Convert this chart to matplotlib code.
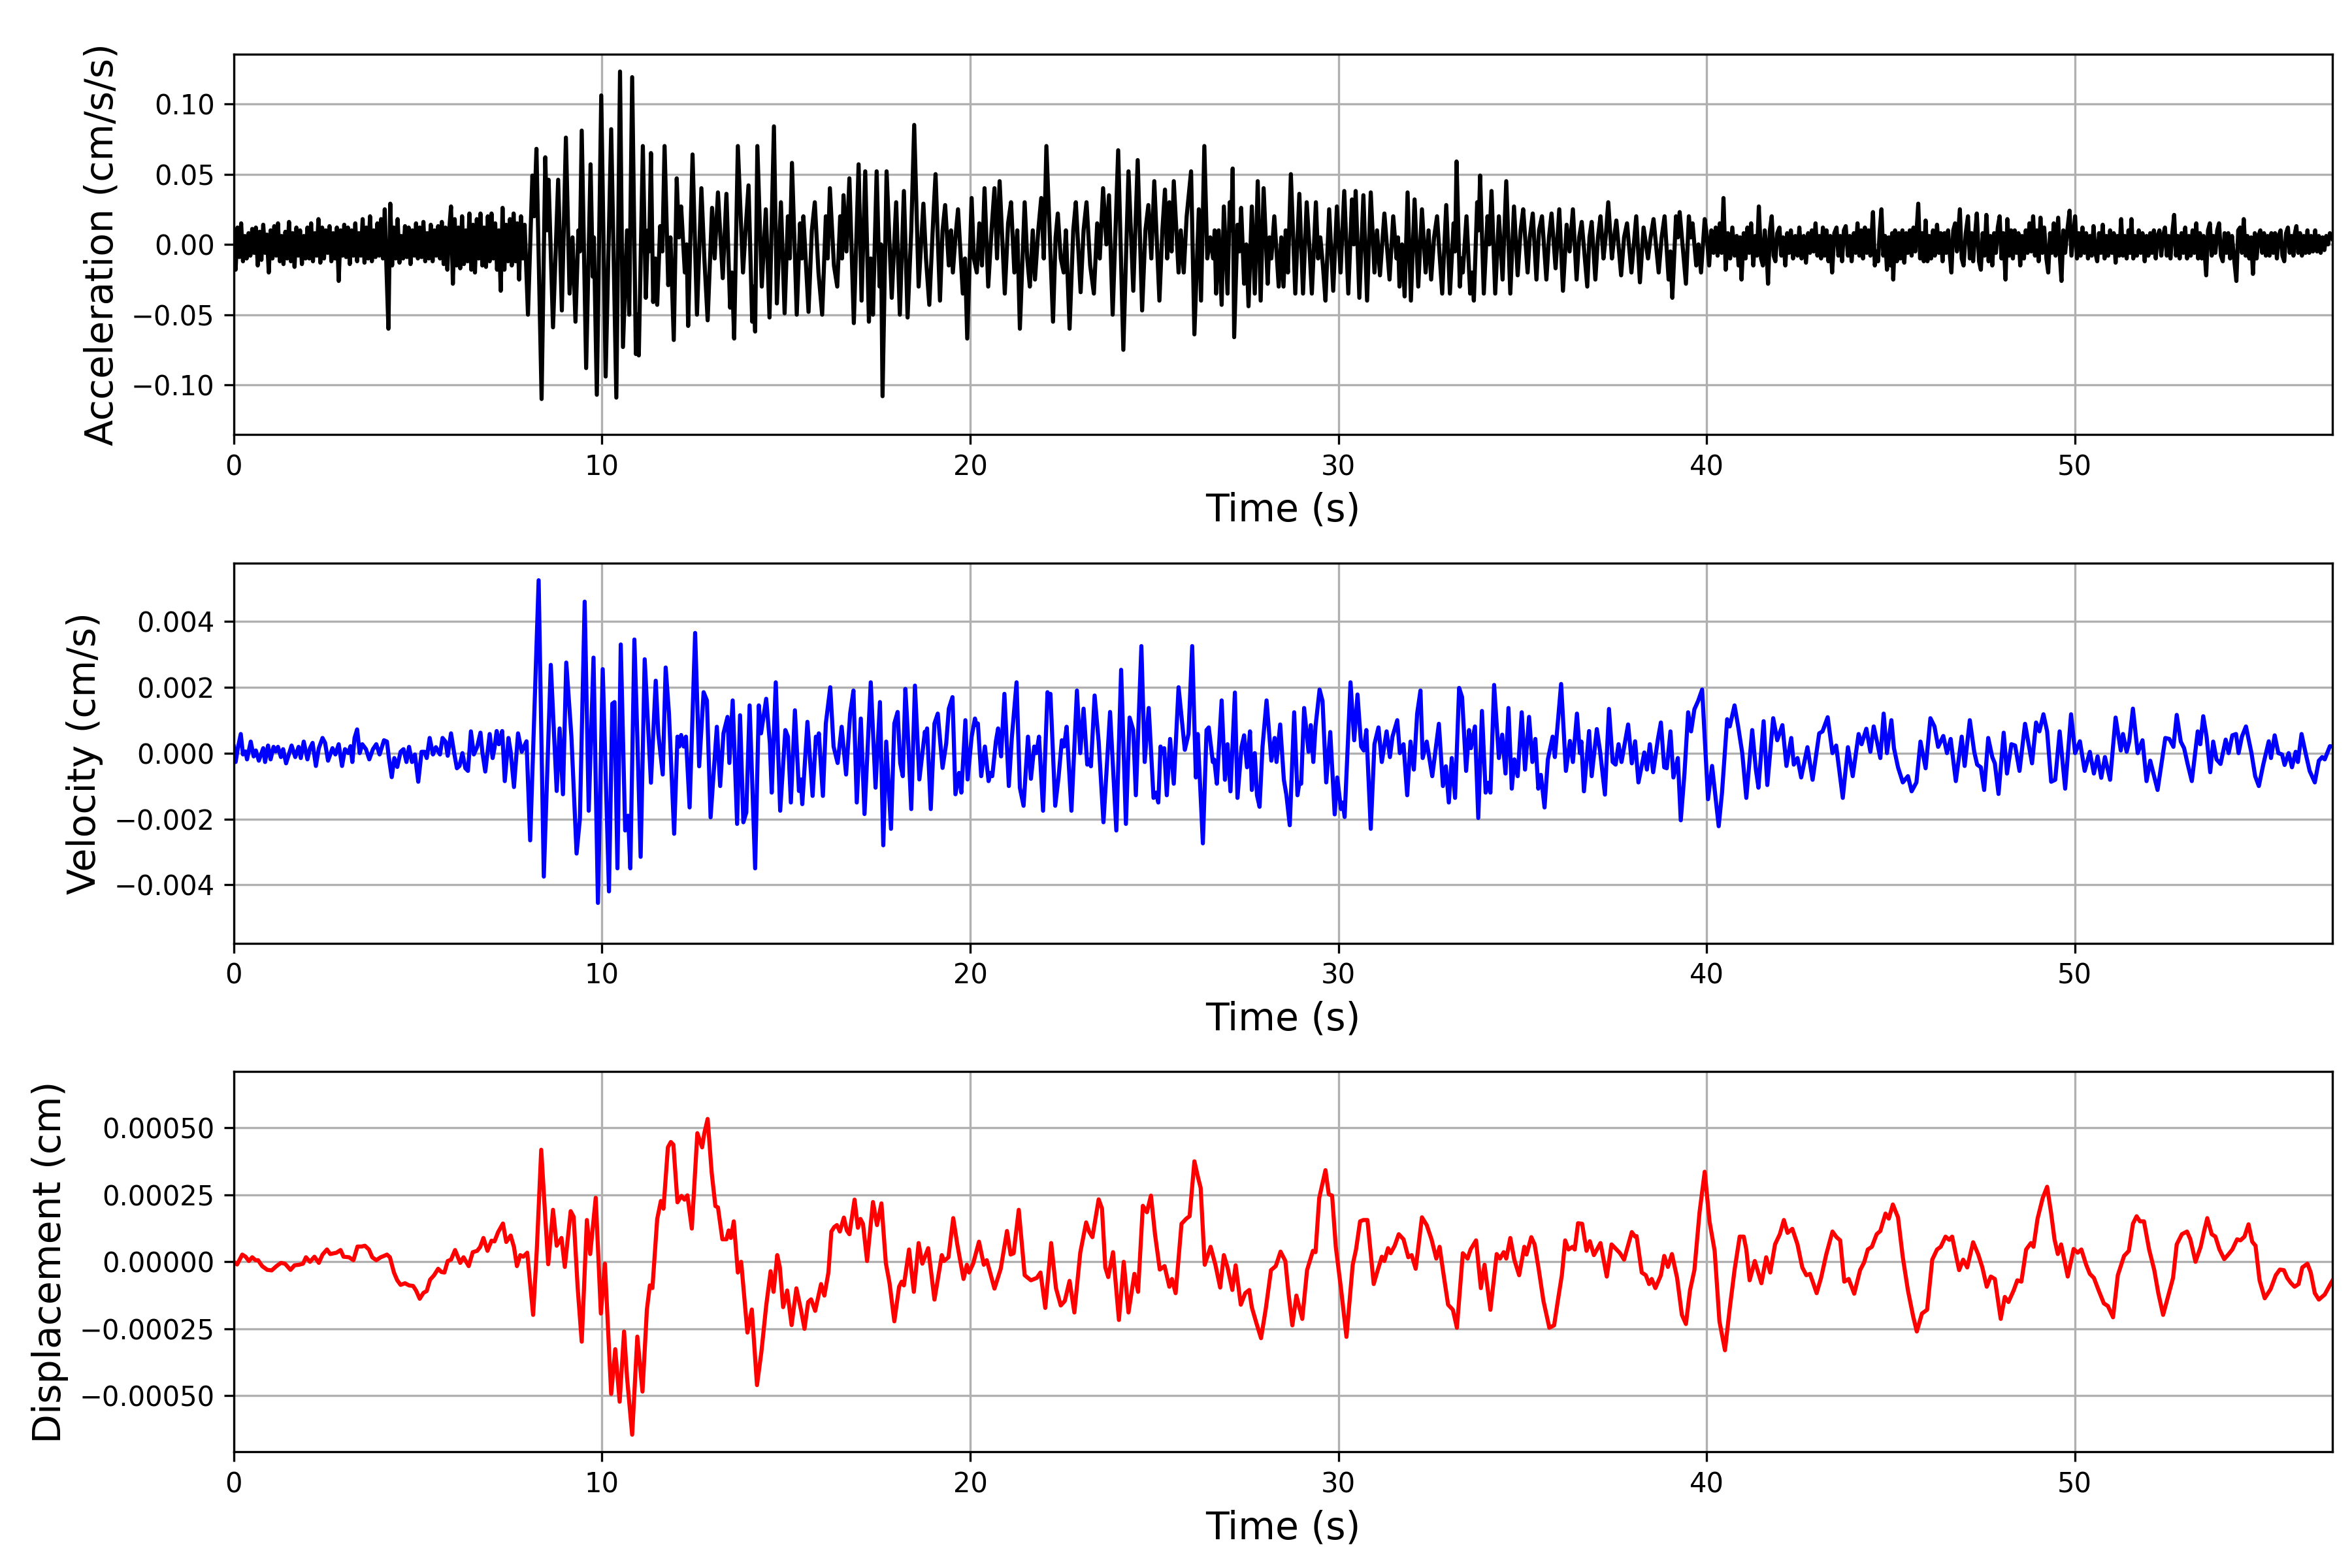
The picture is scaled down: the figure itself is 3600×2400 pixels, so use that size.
import numpy as np
import matplotlib
matplotlib.use("Agg")
import matplotlib.pyplot as plt

# (time s, acceleration x1e-3 cm/s/s)
acc_points = [
    (0.0, 5), (0.05, -18), (0.1, 12), (0.15, -9), (0.2, 15), (0.25, -12), (0.3, 6), (0.35, -10),
    (0.4, 8), (0.45, -8), (0.5, 11), (0.55, -6), (0.6, 12), (0.65, -15), (0.7, 9), (0.75, -11),
    (0.8, 14), (0.85, -6), (0.9, 7), (0.95, -20), (1.0, 10), (1.05, -10), (1.1, 13), (1.15, -8),
    (1.2, 15), (1.25, -12), (1.3, 6), (1.35, -14), (1.4, 9), (1.45, -10), (1.5, 16), (1.55, -12),
    (1.6, 8), (1.65, -16), (1.7, 12), (1.75, -8), (1.8, 10), (1.85, -14), (1.9, 6), (1.95, -10),
    (2.0, 12), (2.05, -10), (2.1, 15), (2.15, -12), (2.2, 8), (2.25, -8), (2.3, 18), (2.35, -13),
    (2.4, 12), (2.45, -10), (2.5, 10), (2.55, -6), (2.6, 13), (2.65, -12), (2.7, 8), (2.75, -10),
    (2.8, 12), (2.85, -26), (2.9, 10), (2.95, -8), (3.0, 14), (3.05, -9), (3.1, 12), (3.15, -14),
    (3.2, 10), (3.25, -8), (3.3, 15), (3.35, -12), (3.4, 8), (3.45, -8), (3.5, 18), (3.55, -13),
    (3.6, 12), (3.65, -10), (3.7, 20), (3.75, -12), (3.8, 10), (3.85, -9), (3.9, 15), (3.95, -8),
    (4.0, 18), (4.05, -10), (4.1, 25), (4.15, -20), (4.2, -60), (4.25, 29), (4.3, -15), (4.35, 12),
    (4.4, -10), (4.45, 18), (4.5, -13), (4.55, 6), (4.6, -10), (4.65, 13), (4.7, -9), (4.75, 12),
    (4.8, -14), (4.85, 10), (4.9, -8), (4.95, 15), (5.0, -10), (5.05, 12), (5.1, -9), (5.15, 16),
    (5.2, -12), (5.25, 8), (5.3, -10), (5.35, 14), (5.4, -12), (5.45, 10), (5.5, -8), (5.55, 13),
    (5.6, -10), (5.65, 16), (5.7, -14), (5.75, 12), (5.8, -18), (5.85, 10), (5.9, 27), (5.95, -28),
    (6.0, 18), (6.05, -15), (6.1, 12), (6.15, -17), (6.2, 20), (6.25, -14), (6.3, 10), (6.35, -12),
    (6.4, 22), (6.45, -18), (6.5, 14), (6.55, -20), (6.6, 18), (6.65, -10), (6.7, 22), (6.75, -15),
    (6.8, 12), (6.85, -16), (6.9, 20), (6.95, -12), (7.0, 22), (7.05, -10), (7.1, 15), (7.15, -18),
    (7.2, 10), (7.25, -33), (7.3, 26), (7.35, -18), (7.4, 14), (7.45, -12), (7.5, 18), (7.55, -15),
    (7.6, 22), (7.65, -12), (7.7, 15), (7.75, -25), (7.8, 20), (7.85, -10), (7.9, 14),
    (7.99, -50), (8.11, 49), (8.16, 20), (8.22, 68), (8.36, -110), (8.46, 62), (8.51, 10), (8.55, 46),
    (8.67, -59), (8.81, 46), (8.91, -47), (9.02, 76), (9.12, -35), (9.2, 5), (9.28, -55), (9.36, 10),
    (9.4, -5), (9.45, 81), (9.57, -88), (9.69, 57), (9.75, -23), (9.78, 5), (9.86, -107), (9.98, 106),
    (10.1, -94), (10.25, 82), (10.39, -109), (10.49, 123), (10.57, -73), (10.68, 10), (10.74, -50),
    (10.82, 119), (10.92, -78), (10.96, -50), (11.0, -79), (11.11, 70), (11.19, -38), (11.25, 10),
    (11.28, -5), (11.33, 65), (11.39, -41), (11.45, -10), (11.5, -43), (11.58, 13), (11.64, -5),
    (11.7, 70), (11.8, -29), (11.86, 5), (11.95, -68), (12.03, 47), (12.09, 5), (12.15, 27),
    (12.25, -20), (12.3, 0), (12.34, -58), (12.46, 64), (12.58, -50), (12.7, 40), (12.78, -10),
    (12.87, -54), (12.99, 26), (13.06, -10), (13.15, 37), (13.28, -24), (13.38, 36), (13.48, -45),
    (13.53, -20), (13.59, -67), (13.69, 70), (13.83, -20), (13.9, 10), (13.98, 42), (14.08, -55),
    (14.12, -30), (14.16, -62), (14.22, 70), (14.34, -30), (14.45, 25), (14.55, -52), (14.67, 84),
    (14.75, -42), (14.86, 30), (14.96, -49), (15.05, 20), (15.1, -10), (15.16, 58), (15.29, -50),
    (15.38, 15), (15.43, -10), (15.47, 20), (15.61, -48), (15.7, 10), (15.78, 30), (15.88, -20),
    (15.98, -50), (16.08, 20), (16.13, -10), (16.19, 40), (16.3, -15), (16.39, -30), (16.47, 20),
    (16.52, -10), (16.56, 35), (16.64, -5), (16.72, 47), (16.84, -56), (16.97, 57), (17.05, -40),
    (17.15, 52), (17.25, -55), (17.3, -10), (17.36, -50), (17.46, 52), (17.54, -30), (17.58, 0),
    (17.62, -108), (17.73, 52), (17.87, -38), (17.99, 30), (18.09, -50), (18.2, 38), (18.3, -52),
    (18.4, 10), (18.48, 85), (18.6, -30), (18.73, 29), (18.8, -10), (18.89, -43), (19.0, 20),
    (19.06, 50), (19.18, -40), (19.25, 10), (19.32, 28), (19.42, -15), (19.48, 10), (19.53, -20),
    (19.6, 5), (19.67, 25), (19.8, -35), (19.86, -10), (19.92, -67), (20.04, 33), (20.1, -10),
    (20.18, -20), (20.25, 15), (20.32, -15), (20.39, 40), (20.49, -30), (20.58, 10), (20.66, 40),
    (20.73, -10), (20.8, 45), (20.94, -35), (21.03, 15), (21.11, 30), (21.2, -20), (21.28, 10),
    (21.35, -60), (21.48, 30), (21.55, -10), (21.62, -30), (21.7, 10), (21.76, -25), (21.85, 10),
    (21.93, 33), (22.0, -10), (22.07, 70), (22.25, -55), (22.32, 5), (22.38, 22), (22.46, -10),
    (22.54, -20), (22.6, 10), (22.7, -60), (22.8, 10), (22.87, 30), (23.0, -34), (23.08, 10),
    (23.16, 30), (23.26, -15), (23.36, -35), (23.45, 15), (23.52, -10), (23.61, 40), (23.7, 0),
    (23.77, 35), (23.87, -50), (24.02, 67), (24.16, -75), (24.3, 52), (24.43, -33), (24.55, 60),
    (24.67, -47), (24.76, 10), (24.84, 28), (24.92, -10), (25.0, 45), (25.14, -40), (25.22, 10),
    (25.29, 39), (25.35, -10), (25.41, 30), (25.47, -5), (25.53, 45), (25.66, -20), (25.72, 10),
    (25.8, -20), (25.88, 20), (26.0, 52), (26.09, -64), (26.21, 25), (26.27, -40), (26.36, 70),
    (26.44, -10), (26.52, 5), (26.6, -10), (26.64, 10), (26.68, -35), (26.75, 10), (26.83, -43),
    (26.89, 27), (26.99, -35), (27.05, 30), (27.09, 10), (27.13, 54), (27.17, -66), (27.26, 14),
    (27.31, -5), (27.36, 26), (27.44, -28), (27.5, 0), (27.56, -44), (27.65, 27), (27.73, -35),
    (27.81, 45), (27.89, -40), (27.97, 40), (28.08, -28), (28.13, 5), (28.18, -10), (28.26, 20),
    (28.38, -30), (28.45, 5), (28.51, -30), (28.57, 10), (28.63, -20), (28.71, 50), (28.83, -35),
    (28.94, 36), (29.04, -35), (29.14, 30), (29.21, 0), (29.28, -35), (29.39, 30), (29.45, -10),
    (29.51, 5), (29.58, -15), (29.65, -40), (29.75, 25), (29.86, -33), (29.96, 27), (30.06, -20),
    (30.16, 38), (30.27, -35), (30.37, 32), (30.42, 0), (30.47, 38), (30.57, -38), (30.68, 35),
    (30.78, -40), (30.88, 37), (30.98, -20), (31.05, 10), (31.13, -22), (31.25, 22), (31.39, -25),
    (31.49, 20), (31.58, -10), (31.62, 5), (31.66, -30), (31.73, 0), (31.8, -37), (31.88, 37),
    (31.97, -40), (32.07, 32), (32.17, -30), (32.27, 25), (32.37, -20), (32.45, 10), (32.52, -25),
    (32.6, 5), (32.68, 20), (32.82, -35), (32.93, 28), (33.03, -35), (33.13, 15), (33.17, -5),
    (33.21, 59), (33.3, -30), (33.34, -10), (33.38, -20), (33.48, 20), (33.58, -35), (33.63, -20),
    (33.68, -40), (33.77, 30), (33.81, 10), (33.85, 49), (33.95, -35), (34.05, 20), (34.1, 0),
    (34.16, 38), (34.26, -35), (34.36, 20), (34.46, -25), (34.56, 45), (34.67, -35), (34.77, 27),
    (34.87, -22), (34.95, 10), (35.02, 25), (35.14, -20), (35.2, 5), (35.28, 22), (35.38, -25),
    (35.45, 10), (35.53, 20), (35.65, -25), (35.72, 5), (35.79, 22), (35.9, -17), (36.0, 25),
    (36.1, -33), (36.2, 14), (36.28, -5), (36.37, 25), (36.47, -25), (36.54, 5), (36.61, 16),
    (36.76, -30), (36.82, 5), (36.88, 16), (36.98, -25), (37.05, 5), (37.12, 20), (37.2, -10),
    (37.26, 5), (37.33, 30), (37.43, -10), (37.49, 5), (37.55, 17), (37.68, -22), (37.76, 5),
    (37.84, 15), (37.96, -20), (38.09, 20), (38.19, -27), (38.29, 12), (38.41, -10), (38.48, 5),
    (38.56, 18), (38.7, -20), (38.78, 5), (38.86, 20), (38.97, -25), (39.02, -5), (39.07, -38),
    (39.17, 20), (39.22, 5), (39.27, 23), (39.44, -28), (39.52, 20), (39.57, 5), (39.62, 15),
    (39.72, -15), (39.78, 0), (39.85, -20), (39.95, 18),
    (40.0, 8), (40.07, -15), (40.13, 10), (40.19, -6), (40.25, 12), (40.3, -8), (40.36, 15),
    (40.41, -6), (40.46, 33), (40.52, -18), (40.58, 8), (40.64, -10), (40.7, 12), (40.76, -8),
    (40.82, 6), (40.87, -15), (40.91, 5), (40.95, -25), (41.01, 8), (41.06, -10), (41.11, 12),
    (41.16, -6), (41.21, 15), (41.27, -15), (41.32, 6), (41.37, -8), (41.42, 27), (41.48, -10),
    (41.53, -15), (41.58, 10), (41.63, -5), (41.67, -28), (41.72, 10), (41.77, 20), (41.82, -8),
    (41.87, -12), (41.92, 8), (41.98, 12), (42.03, -8), (42.08, 5), (42.14, -15), (42.19, 8),
    (42.24, -6), (42.29, 10), (42.35, -10), (42.41, 6), (42.47, -8), (42.52, 12), (42.58, -10),
    (42.64, 6), (42.7, -13), (42.76, 8), (42.81, -6), (42.86, 10), (42.91, -5), (42.96, 15),
    (43.01, -8), (43.06, 6), (43.11, -10), (43.16, 12), (43.21, -8), (43.26, 10), (43.31, -12),
    (43.36, 6), (43.41, -20), (43.47, 8), (43.53, 12), (43.58, -8), (43.63, 6), (43.68, -12),
    (43.73, 10), (43.78, 13), (43.84, -8), (43.89, 6), (43.94, -12), (44.0, 8), (44.05, -6),
    (44.1, 15), (44.15, -8), (44.2, 10), (44.25, -10), (44.3, 12), (44.35, -6), (44.4, 10),
    (44.45, -8), (44.52, 23), (44.57, -15), (44.62, -5), (44.66, -12), (44.7, 8), (44.75, 25),
    (44.8, -8), (44.85, 6), (44.9, -18), (44.95, 5), (45.0, -15), (45.04, 8), (45.07, -25),
    (45.12, 10), (45.17, -12), (45.22, 8), (45.27, -10), (45.32, 10), (45.37, -13), (45.42, 8),
    (45.47, -6), (45.52, 10), (45.57, -8), (45.62, 12), (45.67, -5), (45.75, 29), (45.8, -10),
    (45.85, 8), (45.9, -12), (45.95, 17), (46.0, -12), (46.05, 6), (46.1, -10), (46.15, 10),
    (46.2, -8), (46.26, 14), (46.31, -6), (46.36, 8), (46.41, -12), (46.46, 8), (46.51, -6),
    (46.56, 10), (46.61, -8), (46.65, -20), (46.7, 10), (46.75, 15), (46.8, -5), (46.84, 10),
    (46.88, 25), (46.93, -10), (46.98, -15), (47.04, 8), (47.1, 20), (47.15, -10), (47.2, 8),
    (47.24, -12), (47.29, 6), (47.34, 22), (47.4, -12), (47.45, -18), (47.5, 8), (47.55, -8),
    (47.6, 21), (47.66, -12), (47.71, 6), (47.76, -15), (47.81, 8), (47.86, -6), (47.91, 12),
    (47.96, 20), (48.01, -10), (48.06, 8), (48.12, -25), (48.17, 18), (48.22, -8), (48.27, 10),
    (48.32, -10), (48.37, 10), (48.42, -6), (48.47, 8), (48.52, -15), (48.57, 6), (48.62, -10),
    (48.67, 10), (48.72, -6), (48.77, 15), (48.82, -5), (48.87, 20), (48.92, -8), (48.97, 10),
    (49.02, -12), (49.07, 19), (49.12, -6), (49.17, 12), (49.23, -10), (49.28, -20), (49.33, 8),
    (49.38, -6), (49.43, 15), (49.48, -8), (49.55, 19), (49.6, -10), (49.64, -26), (49.69, 10),
    (49.74, -6), (49.79, 8), (49.86, 24), (49.91, -8), (49.96, 6), (50.01, 20), (50.06, -10),
    (50.11, 8), (50.16, -8), (50.21, 12), (50.26, -6), (50.31, 8), (50.36, -10), (50.41, 6),
    (50.46, -8), (50.51, 13), (50.56, -6), (50.61, -12), (50.66, 8), (50.71, -6), (50.76, 14),
    (50.81, -10), (50.86, 6), (50.91, -8), (50.96, 10), (51.01, -6), (51.06, 8), (51.11, -13),
    (51.16, 6), (51.21, -8), (51.26, 18), (51.31, -8), (51.36, 6), (51.41, -10), (51.46, 10),
    (51.5, -6), (51.54, 18), (51.59, -10), (51.64, 6), (51.69, -8), (51.74, 10), (51.79, -6),
    (51.84, 8), (51.9, -12), (51.95, 6), (52.0, -8), (52.05, 8), (52.1, -6), (52.15, 10),
    (52.2, -10), (52.25, 6), (52.3, 10), (52.35, -8), (52.4, 6), (52.45, 12), (52.5, -8),
    (52.55, 6), (52.6, -10), (52.65, 8), (52.7, 21), (52.75, -8), (52.8, 6), (52.85, -10),
    (52.9, 8), (52.95, -6), (53.0, 12), (53.05, -10), (53.1, 6), (53.15, -8), (53.2, 10),
    (53.25, -6), (53.3, 15), (53.35, -10), (53.4, 8), (53.45, -10), (53.5, 6), (53.57, -22),
    (53.62, 10), (53.67, 15), (53.72, -8), (53.77, 6), (53.82, -6), (53.87, 10), (53.92, 15),
    (53.97, -8), (54.02, -12), (54.07, 8), (54.12, -6), (54.17, 8), (54.22, -10), (54.27, 6),
    (54.32, -8), (54.39, -26), (54.44, 10), (54.49, 12), (54.54, -6), (54.59, 18), (54.64, -8),
    (54.69, 6), (54.74, -10), (54.79, 5), (54.84, -21), (54.89, 8), (54.94, -10), (54.99, 6),
    (55.04, 10), (55.09, -6), (55.14, 8), (55.19, -8), (55.24, 6), (55.29, -8), (55.34, 8),
    (55.39, -6), (55.44, 8), (55.49, -10), (55.54, 6), (55.59, 10), (55.64, -8), (55.69, -12),
    (55.74, 8), (55.79, 12), (55.84, -6), (55.89, 6), (55.94, -8), (55.98, 8), (56.02, 13),
    (56.07, -6), (56.12, 8), (56.17, -8), (56.22, 6), (56.27, -6), (56.32, 10), (56.37, -6),
    (56.42, 6), (56.47, -5), (56.53, 10), (56.58, -5), (56.63, 6), (56.68, -6), (56.73, 5),
    (56.78, -4), (56.83, 6), (56.88, 0), (56.93, 8), (57.0, 4),
]

# (time s, velocity x1e-3 cm/s)
vel_points = [
    (0.0, 0.2), (0.05, -0.27), (0.11, 0.15), (0.19, 0.58), (0.25, -0.04), (0.32, 0.05), (0.36, -0.19),
    (0.46, 0.35), (0.54, -0.1), (0.6, 0.08), (0.68, -0.23), (0.8, 0.15), (0.85, -0.27), (0.93, 0.23),
    (1.0, -0.19), (1.08, 0.19), (1.14, 0.05), (1.2, 0.19), (1.28, -0.12), (1.34, 0.12), (1.42, -0.31),
    (1.57, 0.23), (1.67, -0.12), (1.76, 0.19), (1.82, -0.15), (1.9, 0.35), (2.0, -0.19), (2.07, 0.15),
    (2.14, 0.31), (2.23, -0.39), (2.31, 0.15), (2.41, 0.46), (2.48, 0.31), (2.56, -0.23), (2.68, 0.15),
    (2.76, -0.04), (2.85, 0.27), (2.94, -0.39), (3.02, 0.12), (3.11, 0.0), (3.17, 0.21), (3.22, -0.27),
    (3.28, 0.46), (3.35, 0.72), (3.42, 0.0), (3.49, 0.27), (3.59, 0.12), (3.68, -0.19), (3.78, 0.12),
    (3.87, 0.27), (3.96, -0.04), (4.08, 0.39), (4.16, 0.35), (4.21, -0.12), (4.29, -0.73), (4.36, -0.15),
    (4.44, -0.42), (4.53, 0.04), (4.61, 0.12), (4.69, -0.27), (4.76, 0.19), (4.84, -0.27), (4.92, -0.04),
    (5.01, -0.87), (5.1, 0.04), (5.18, 0.04), (5.24, -0.15), (5.32, 0.46), (5.41, -0.04), (5.49, 0.18),
    (5.6, -0.04), (5.67, 0.46), (5.75, 0.35), (5.81, -0.08), (5.9, 0.6), (5.98, 0.04), (6.06, -0.46),
    (6.13, -0.39), (6.21, 0.0), (6.29, -0.46), (6.36, -0.54), (6.44, 0.66), (6.52, -0.04), (6.61, 0.19),
    (6.7, 0.62), (6.75, 0.04), (6.83, -0.56), (6.95, 0.58), (7.03, -0.15), (7.08, 0.15), (7.14, 0.67),
    (7.2, 0.27), (7.29, 0.67), (7.36, -0.85), (7.46, 0.46), (7.52, 0.04), (7.61, -1.03), (7.72, 0.6),
    (7.82, 0.04), (7.95, 0.36), (8.05, -2.65), (8.28, 5.25), (8.42, -3.75), (8.61, 2.68), (8.77, -1.15),
    (8.85, 0.75), (8.94, -1.25), (9.03, 2.75), (9.17, 0.5), (9.31, -3.05), (9.4, -2.0), (9.53, 4.6),
    (9.64, -1.75), (9.77, 2.9), (9.89, -4.55), (10.02, 2.55), (10.19, -4.2), (10.28, 1.5), (10.34, 1.55),
    (10.42, -3.5), (10.51, 3.3), (10.63, -2.35), (10.71, -1.9), (10.77, -3.5), (10.88, 3.45), (10.96, 0.5),
    (11.05, -3.15), (11.16, 2.85), (11.33, -0.9), (11.46, 2.2), (11.53, 0.6), (11.65, -0.65), (11.73, 2.6),
    (11.82, 1.2), (11.96, -2.45), (12.05, 0.5), (12.1, 0.2), (12.15, 0.55), (12.22, 0.2), (12.28, 0.5),
    (12.38, -1.65), (12.53, 3.65), (12.64, -0.4), (12.76, 1.85), (12.85, 1.6), (12.95, -1.95), (13.12, 0.8),
    (13.21, -1.0), (13.3, 0.6), (13.41, 1.1), (13.46, -0.3), (13.55, 1.6), (13.67, -2.15), (13.75, 1.15),
    (13.84, -2.1), (13.92, -1.8), (14.01, 1.45), (14.16, -3.5), (14.26, 1.45), (14.32, 0.6), (14.46, 1.65),
    (14.56, 0.3), (14.61, -1.2), (14.72, 2.15), (14.84, -1.75), (14.98, 0.7), (15.05, 0.5), (15.13, -1.5),
    (15.24, 1.3), (15.35, -1.15), (15.4, -0.8), (15.44, -1.55), (15.58, 0.95), (15.72, -1.3), (15.81, 0.5),
    (15.86, 0.3), (15.89, 0.6), (16.0, -1.3), (16.08, 0.9), (16.2, 2.0), (16.29, 0.2), (16.4, -0.3),
    (16.51, 0.8), (16.63, -0.65), (16.74, 1.2), (16.83, 1.9), (16.92, -1.5), (17.03, 1.05), (17.13, -1.85),
    (17.3, 2.15), (17.43, -1.05), (17.55, 1.55), (17.64, -2.8), (17.72, 0.35), (17.85, -2.3), (17.94, 0.9),
    (18.03, 1.25), (18.1, -0.3), (18.17, -0.7), (18.24, 1.95), (18.3, 0.75), (18.4, -1.7), (18.5, 2.05),
    (18.62, -0.8), (18.77, 0.65), (18.8, 0.5), (18.83, 0.75), (18.93, -1.7), (19.03, 0.9), (19.12, 1.2),
    (19.25, -0.45), (19.35, 0.3), (19.42, 1.35), (19.52, 1.7), (19.6, -1.25), (19.7, -0.6), (19.76, -1.2),
    (19.87, 1.0), (19.93, -0.8), (20.04, 0.5), (20.13, 1.05), (20.17, 0.85), (20.21, 0.9), (20.3, -0.7),
    (20.4, 0.2), (20.5, -0.85), (20.55, -0.6), (20.6, -0.7), (20.7, 0.37), (20.76, 0.75), (20.84, -0.1),
    (20.93, 1.8), (21.05, -1.0), (21.13, 0.45), (21.26, 2.15), (21.35, -1.05), (21.45, -1.6), (21.57, 0.5),
    (21.65, -0.78), (21.74, 0.2), (21.8, 0.0), (21.87, 0.5), (21.98, -1.75), (22.1, 1.85), (22.14, 1.7),
    (22.18, 1.8), (22.31, -1.6), (22.4, -0.74), (22.49, 0.39), (22.55, 0.2), (22.62, 0.8), (22.75, -1.75),
    (22.9, 1.9), (22.99, 0.0), (23.08, 1.35), (23.18, -0.35), (23.23, -0.2), (23.28, -0.4), (23.38, 1.75),
    (23.49, 0.35), (23.62, -2.1), (23.7, -0.6), (23.8, 1.25), (23.97, -2.35), (24.1, 2.53), (24.23, -2.15),
    (24.33, 1.08), (24.43, 0.7), (24.5, -1.28), (24.65, 3.25), (24.74, -0.27), (24.85, 1.37), (24.98, -1.36),
    (25.05, -1.2), (25.11, -1.5), (25.17, 0.2), (25.22, 0.0), (25.27, 0.15), (25.34, -1.28), (25.43, 0.43),
    (25.53, -0.93), (25.66, 2.0), (25.83, 0.1), (25.93, 0.58), (26.03, 3.25), (26.13, -0.74), (26.18, 0.58),
    (26.32, -2.74), (26.42, 0.7), (26.48, 0.78), (26.59, -0.27), (26.63, -0.2), (26.7, -0.93), (26.83, 1.6),
    (26.92, -0.81), (26.99, 0.27), (27.07, -1.16), (27.19, 1.84), (27.26, -1.36), (27.37, 0.19), (27.44, 0.54),
    (27.52, -0.43), (27.6, 0.66), (27.65, -1.12), (27.73, 0.0), (27.79, -1.28), (27.86, -1.63), (27.94, 0.19),
    (28.05, 1.6), (28.18, -0.23), (28.27, 0.46), (28.32, -0.27), (28.42, 0.87), (28.52, -0.81), (28.59, -1.28),
    (28.68, -2.19), (28.8, 1.24), (28.89, -1.28), (28.94, -0.9), (28.99, -0.93), (29.07, 1.37), (29.19, 0.04),
    (29.25, 0.85), (29.32, -0.27), (29.38, 0.81), (29.49, 1.93), (29.57, 1.58), (29.67, -0.89), (29.78, 0.64),
    (29.9, -1.86), (29.97, -0.74), (30.07, -1.7), (30.12, -1.5), (30.17, -1.94), (30.33, 2.15), (30.43, 0.39),
    (30.52, 1.78), (30.62, 0.2), (30.69, 0.08), (30.76, 0.7), (30.88, -2.3), (30.98, 0.27), (31.09, 0.78),
    (31.18, -0.27), (31.31, 0.66), (31.4, -0.12), (31.47, 0.5), (31.6, 1.0), (31.67, 0.0), (31.77, 0.27),
    (31.87, -1.28), (31.96, 0.35), (32.05, -0.5), (32.14, 1.2), (32.23, 1.9), (32.29, -0.15), (32.4, 0.35),
    (32.55, -0.7), (32.73, 0.89), (32.84, -1.0), (32.92, -0.4), (33.0, -1.5), (33.08, -0.15), (33.17, -1.36),
    (33.28, 1.98), (33.36, 1.7), (33.47, -0.54), (33.55, 0.7), (33.6, 0.15), (33.71, 0.81), (33.8, -1.97),
    (33.9, 1.28), (34.0, -1.2), (34.07, -0.9), (34.13, -1.2), (34.23, 2.07), (34.36, -0.15), (34.45, 0.56),
    (34.54, -0.62), (34.62, 1.37), (34.71, -1.08), (34.78, -0.19), (34.87, -0.7), (34.98, 1.24), (35.07, -0.5),
    (35.18, 1.1), (35.27, -0.27), (35.35, 0.43), (35.43, -1.08), (35.5, -0.66), (35.6, -1.65), (35.69, -0.19),
    (35.82, 0.5), (35.88, -0.12), (36.05, 2.1), (36.18, -0.54), (36.29, 0.37), (36.37, -0.27), (36.48, 1.2),
    (36.56, 0.0), (36.6, 0.35), (36.67, -1.16), (36.81, 0.67), (36.88, -0.7), (37.02, 0.73), (37.11, 0.04),
    (37.24, -1.26), (37.35, 1.34), (37.45, -0.27), (37.53, -0.35), (37.61, 0.27), (37.69, -0.27), (37.87, 0.87),
    (37.97, -0.31), (38.06, 0.36), (38.15, -0.89), (38.31, 0.02), (38.38, -0.5), (38.46, 0.27), (38.55, -0.58),
    (38.68, 0.43), (38.76, 0.93), (38.85, -0.43), (38.92, -0.46), (39.02, 0.66), (39.1, -0.74), (39.22, -0.15),
    (39.3, -2.04), (39.4, -0.62), (39.5, 1.24), (39.58, 0.66), (39.67, 1.33), (39.77, 1.58), (39.88, 1.93),
    (40.04, -1.4), (40.15, -0.39), (40.33, -2.22), (40.42, -1.2), (40.56, 1.03), (40.63, 0.81), (40.76, 1.45),
    (40.86, 0.8), (40.97, 0.0), (41.08, -1.36), (41.24, 0.7), (41.34, -0.5), (41.41, -1.05), (41.55, 0.97),
    (41.65, -0.97), (41.81, 1.06), (41.92, 0.39), (42.06, 0.85), (42.17, -0.39), (42.3, 0.46), (42.37, -0.35),
    (42.47, -0.15), (42.57, -0.74), (42.74, 0.18), (42.88, -0.81), (43.06, 0.6), (43.15, 0.66), (43.29, 1.09),
    (43.42, 0.0), (43.52, 0.23), (43.7, -1.36), (43.84, 0.18), (43.97, -0.7), (44.13, 0.58), (44.21, 0.27),
    (44.34, 0.74), (44.45, 0.04), (44.54, 0.81), (44.63, 0.35), (44.72, -0.15), (44.81, 1.2), (44.9, 0.0),
    (45.02, 1.0), (45.09, 0.15), (45.2, -0.43), (45.33, -0.89), (45.47, -0.7), (45.57, -1.16), (45.7, -0.89),
    (45.81, 0.35), (45.95, -0.46), (46.08, 1.06), (46.19, 0.81), (46.29, 0.19), (46.43, 0.52), (46.53, 0.0),
    (46.63, 0.43), (46.77, -0.85), (46.93, 0.5), (47.01, -0.39), (47.15, 1.0), (47.27, 0.04), (47.35, -0.35),
    (47.45, -0.43), (47.54, -1.12), (47.65, 0.46), (47.76, -0.12), (47.83, -0.31), (47.93, -1.24), (48.07, 0.62),
    (48.16, -0.62), (48.28, 0.27), (48.38, 0.23), (48.5, -0.54), (48.65, 0.89), (48.84, -0.31), (48.95, 0.93),
    (49.04, 0.66), (49.15, 1.18), (49.25, 0.66), (49.36, -0.87), (49.47, -0.81), (49.59, 0.66), (49.74, -1.08),
    (49.9, 1.18), (50.01, 0.0), (50.14, 0.36), (50.27, -0.54), (50.41, 0.04), (50.52, -0.62), (50.62, -0.1),
    (50.72, -0.75), (50.82, -0.12), (50.96, -0.81), (51.11, 1.08), (51.25, 0.08), (51.31, 0.58), (51.41, 0.04),
    (51.48, 0.35), (51.58, 1.35), (51.71, 0.0), (51.84, 0.39), (51.95, -0.85), (52.05, -0.23), (52.16, -0.72),
    (52.25, -1.12), (52.46, 0.46), (52.57, 0.43), (52.68, 0.19), (52.77, 1.16), (52.88, 0.35), (52.97, 0.15),
    (53.07, -0.35), (53.18, -0.85), (53.34, 0.66), (53.41, 0.27), (53.49, 1.12), (53.58, 0.5), (53.68, -0.58),
    (53.76, 0.35), (53.85, -0.19), (53.96, -0.33), (54.1, 0.41), (54.18, 0.0), (54.28, 0.54), (54.38, 0.58),
    (54.45, 0.0), (54.54, 0.5), (54.65, 0.81), (54.8, 0.0), (54.9, -0.7), (55.0, -1.0), (55.12, -0.35),
    (55.27, 0.36), (55.33, -0.15), (55.43, 0.54), (55.53, 0.0), (55.63, -0.04), (55.7, -0.36), (55.81, 0.0),
    (55.9, -0.43), (56.0, 0.04), (56.06, -0.27), (56.16, 0.58), (56.27, 0.0), (56.38, -0.54), (56.52, -0.89),
    (56.63, -0.23), (56.72, -0.12), (56.79, -0.19), (56.93, 0.21), (57.0, 0.2),
]

# (time s, displacement x1e-4 cm)
disp_points = [
    (0.0, 0.0), (0.09, -0.1), (0.23, 0.27), (0.32, 0.19), (0.41, 0.03), (0.5, 0.17), (0.59, 0.06),
    (0.66, 0.06), (0.77, -0.16), (0.91, -0.3), (1.03, -0.32), (1.16, -0.16), (1.28, -0.04), (1.39, -0.07),
    (1.54, -0.3), (1.65, -0.13), (1.77, -0.11), (1.88, -0.07), (1.96, 0.17), (2.07, 0.0), (2.19, 0.19),
    (2.31, -0.04), (2.41, 0.27), (2.53, 0.46), (2.62, 0.29), (2.79, 0.34), (2.9, 0.44), (2.98, 0.19),
    (3.13, 0.17), (3.25, 0.06), (3.36, 0.57), (3.47, 0.57), (3.56, 0.6), (3.67, 0.46), (3.76, 0.17),
    (3.87, 0.06), (3.99, 0.17), (4.08, 0.22), (4.16, 0.27), (4.24, 0.17), (4.35, -0.4), (4.44, -0.69),
    (4.53, -0.86), (4.65, -0.8), (4.76, -0.88), (4.87, -0.9), (4.95, -1.07), (5.05, -1.38), (5.15, -1.16),
    (5.24, -1.09), (5.33, -0.67), (5.44, -0.5), (5.55, -0.26), (5.64, -0.38), (5.72, -0.4), (5.81, 0.03),
    (5.9, 0.08), (6.01, 0.44), (6.15, -0.04), (6.24, 0.17), (6.38, -0.16), (6.49, 0.36), (6.61, 0.41),
    (6.69, 0.55), (6.78, 0.89), (6.89, 0.41), (7.0, 0.79), (7.08, 0.76), (7.18, 1.11), (7.31, 1.43),
    (7.4, 0.74), (7.52, 0.98), (7.61, 0.55), (7.69, -0.16), (7.78, 0.25), (7.86, 0.19), (7.97, 0.34),
    (8.13, -1.98), (8.23, 0.46), (8.35, 4.18), (8.45, 1.89), (8.54, -0.09), (8.67, 1.94), (8.77, 0.6),
    (8.9, 0.89), (8.99, -0.19), (9.15, 1.89), (9.23, 1.68), (9.34, -0.97), (9.45, -2.98), (9.59, 1.56),
    (9.68, 0.29), (9.83, 2.39), (9.97, -1.93), (10.08, -0.07), (10.25, -4.93), (10.36, -3.26), (10.48, -5.22),
    (10.6, -2.6), (10.68, -4.31), (10.82, -6.45), (10.96, -2.79), (11.1, -4.84), (11.22, -1.78), (11.3, -0.88),
    (11.37, -0.98), (11.5, 1.6), (11.6, 2.27), (11.67, 1.98), (11.79, 4.27), (11.87, 4.47), (11.94, 4.37),
    (12.05, 2.22), (12.16, 2.46), (12.24, 2.32), (12.32, 2.48), (12.44, 1.24), (12.59, 4.8), (12.72, 4.27),
    (12.78, 4.8), (12.87, 5.33), (12.98, 3.32), (13.08, 2.08), (13.15, 2.03), (13.27, 0.84), (13.38, 0.84),
    (13.44, 1.17), (13.5, 0.89), (13.58, 1.51), (13.69, -0.4), (13.78, 0.0), (13.95, -2.64), (14.07, -1.78),
    (14.21, -4.6), (14.33, -3.36), (14.46, -1.64), (14.58, -0.35), (14.66, -1.12), (14.76, 0.25), (14.83, -0.2),
    (14.92, -1.69), (15.03, -1.07), (15.15, -2.36), (15.28, -0.99), (15.41, -1.83), (15.5, -2.5), (15.6, -1.5),
    (15.68, -1.4), (15.79, -1.83), (15.95, -0.83), (16.04, -1.26), (16.15, -0.4), (16.23, 1.13), (16.31, 1.3),
    (16.38, 1.37), (16.46, 1.13), (16.57, 1.65), (16.65, 1.17), (16.72, 1.03), (16.86, 2.32), (16.95, 1.27),
    (17.02, 1.6), (17.09, 1.41), (17.2, 0.03), (17.36, 2.23), (17.47, 1.37), (17.59, 2.18), (17.71, -0.05),
    (17.81, -0.79), (17.94, -2.22), (18.07, -0.93), (18.14, -0.74), (18.2, -0.88), (18.34, 0.46), (18.47, -1.12),
    (18.6, 0.7), (18.7, -0.07), (18.86, 0.51), (19.03, -1.41), (19.23, 0.25), (19.29, 0.03), (19.41, 0.17),
    (19.54, 1.63), (19.65, 0.65), (19.82, -0.64), (19.91, -0.11), (19.97, -0.4), (20.08, -0.07), (20.24, 0.75),
    (20.37, -0.11), (20.45, 0.06), (20.56, -0.5), (20.66, -1.0), (20.83, -0.26), (21.0, 1.15), (21.1, 0.27),
    (21.18, 0.32), (21.32, 1.94), (21.48, -0.5), (21.65, -0.69), (21.81, -0.6), (21.91, -0.4), (22.04, -1.72),
    (22.2, 0.7), (22.33, -0.98), (22.46, -1.63), (22.57, -1.46), (22.7, -0.71), (22.83, -1.89), (22.99, 0.34),
    (23.15, 1.47), (23.23, 1.13), (23.32, 0.92), (23.49, 2.33), (23.58, 1.99), (23.67, -0.21), (23.75, -0.57),
    (23.88, 0.36), (24.04, -2.17), (24.17, 0.0), (24.3, -1.89), (24.46, -0.45), (24.56, -1.12), (24.69, 2.09),
    (24.8, 1.85), (24.91, 2.47), (25.02, 1.03), (25.15, -0.29), (25.28, -0.16), (25.41, -0.93), (25.48, -0.64),
    (25.58, -1.17), (25.74, 1.42), (25.87, 1.61), (25.96, 1.7), (26.09, 3.75), (26.19, 3.14), (26.26, 2.76),
    (26.37, -0.11), (26.53, 0.56), (26.66, -0.11), (26.79, -0.96), (26.89, 0.25), (26.99, -0.21), (27.12, -1.05),
    (27.21, -0.13), (27.35, -1.6), (27.47, -1.17), (27.58, -1.05), (27.65, -1.7), (27.77, -2.27), (27.9, -2.85),
    (28.03, -1.74), (28.17, -0.31), (28.3, -0.16), (28.43, 0.38), (28.56, 0.03), (28.65, -1.22), (28.75, -2.37),
    (28.86, -1.26), (29.02, -2.13), (29.15, -0.31), (29.31, 0.41), (29.38, 0.36), (29.48, 2.38), (29.65, 3.42),
    (29.74, 2.52), (29.83, 2.47), (29.93, 0.56), (30.07, -0.98), (30.22, -2.8), (30.39, -0.11), (30.48, 0.46),
    (30.59, 1.51), (30.68, 1.56), (30.79, 1.56), (30.96, -0.83), (31.05, -0.4), (31.18, 0.19), (31.25, 0.03),
    (31.35, 0.51), (31.42, 0.32), (31.53, 0.6), (31.64, 1.03), (31.77, 0.84), (31.9, 0.17), (31.99, 0.25),
    (32.1, -0.26), (32.27, 1.66), (32.4, 1.37), (32.53, 0.84), (32.66, 0.12), (32.75, 0.56), (32.84, -0.31),
    (32.98, -1.6), (33.11, -1.79), (33.22, -2.46), (33.38, 0.32), (33.51, 0.12), (33.59, 0.46), (33.74, 0.8),
    (33.87, -0.98), (33.97, -0.11), (34.13, -1.79), (34.3, 0.29), (34.39, 0.12), (34.49, 0.36), (34.56, 0.12),
    (34.67, 0.89), (34.78, 0.07), (34.91, -0.5), (35.05, 0.56), (35.11, 0.27), (35.24, 0.92), (35.33, 0.65),
    (35.44, -0.26), (35.57, -1.46), (35.73, -2.46), (35.86, -2.37), (35.96, -1.46), (36.07, -0.5), (36.16, 0.8),
    (36.25, 0.46), (36.36, 0.56), (36.42, 0.46), (36.51, 1.44), (36.62, 1.42), (36.74, 0.41), (36.83, 0.77),
    (36.94, 0.25), (37.12, 0.7), (37.29, -0.55), (37.42, 0.65), (37.52, 0.51), (37.65, 0.32), (37.76, 0.08),
    (37.97, 1.11), (38.06, 0.94), (38.1, 0.96), (38.24, -0.4), (38.35, -0.5), (38.44, -0.83), (38.51, -0.64),
    (38.61, -0.98), (38.76, -0.5), (38.85, 0.22), (38.95, -0.19), (39.06, 0.29), (39.2, -0.6), (39.33, -1.98),
    (39.44, -2.32), (39.55, -1.07), (39.67, -0.31), (39.81, 1.85), (39.95, 3.36), (40.08, 1.51), (40.22, 0.41),
    (40.35, -2.22), (40.5, -3.3), (40.63, -1.74), (40.76, -0.31), (40.9, 0.94), (41.01, 0.94), (41.08, 0.46),
    (41.17, -0.69), (41.31, 0.03), (41.49, -0.8), (41.62, 0.17), (41.73, -0.4), (41.86, 0.65), (41.99, 1.03),
    (42.1, 1.56), (42.2, 1.08), (42.33, 1.23), (42.47, 0.65), (42.6, -0.21), (42.71, -0.5), (42.81, -0.45),
    (42.99, -1.17), (43.11, -0.6), (43.25, 0.27), (43.42, 1.13), (43.53, 0.92), (43.63, 0.8), (43.74, -0.74),
    (43.86, -0.64), (44.01, -1.19), (44.17, -0.31), (44.28, -0.02), (44.38, 0.46), (44.49, 0.56), (44.62, 1.03),
    (44.72, 1.15), (44.86, 1.8), (44.95, 1.61), (45.06, 2.14), (45.2, 1.66), (45.33, 0.17), (45.47, -1.07),
    (45.61, -2.03), (45.71, -2.6), (45.85, -1.93), (45.99, -1.79), (46.13, 0.08), (46.26, 0.46), (46.36, 0.56),
    (46.49, 0.94), (46.59, 0.82), (46.67, 0.94), (46.77, 0.27), (46.86, -0.31), (46.97, 0.08), (47.08, -0.21),
    (47.24, 0.73), (47.38, 0.27), (47.49, -0.21), (47.61, -0.93), (47.72, -0.55), (47.83, -0.64), (47.99, -2.13),
    (48.1, -1.31), (48.2, -1.5), (48.34, -1.07), (48.44, -0.69), (48.55, -0.74), (48.68, 0.46), (48.81, 0.7),
    (48.88, 0.56), (48.99, 1.61), (49.13, 2.38), (49.25, 2.8), (49.36, 1.8), (49.45, 0.84), (49.54, 0.29),
    (49.63, 0.65), (49.81, -0.55), (49.97, 0.48), (50.08, 0.34), (50.18, 0.46), (50.31, -0.11), (50.41, -0.45),
    (50.52, -0.6), (50.65, -1.07), (50.79, -1.55), (50.9, -1.65), (51.04, -2.07), (51.17, -0.5), (51.34, 0.22),
    (51.47, 0.41), (51.58, 1.42), (51.68, 1.7), (51.77, 1.51), (51.88, 1.51), (52.02, 0.46), (52.16, -0.31),
    (52.27, -1.17), (52.4, -1.98), (52.54, -1.26), (52.67, -0.6), (52.77, 0.65), (52.91, 1.03), (53.05, 1.13),
    (53.14, 0.84), (53.28, 0.0), (53.42, 0.56), (53.52, 1.18), (53.6, 1.63), (53.72, 1.03), (53.82, 0.94),
    (53.93, 0.46), (54.06, 0.1), (54.17, 0.27), (54.28, 0.46), (54.41, 0.84), (54.5, 0.8), (54.61, 0.94),
    (54.72, 1.4), (54.82, 0.75), (54.91, 0.6), (55.02, -0.69), (55.16, -1.36), (55.32, -1.02), (55.46, -0.5),
    (55.57, -0.29), (55.68, -0.31), (55.77, -0.6), (55.87, -0.79), (55.97, -0.93), (56.08, -0.83), (56.18, -0.21),
    (56.32, -0.07), (56.41, -0.4), (56.52, -1.17), (56.63, -1.41), (56.79, -1.22), (56.96, -0.79), (57.0, -0.7),
]

acc_t, acc = np.array(acc_points, dtype=float).T
vel_t, vel = np.array(vel_points, dtype=float).T
disp_t, disp = np.array(disp_points, dtype=float).T
acc = acc * 1e-3
vel = vel * 1e-3
disp = disp * 1e-4

series = [
    (acc_t, acc, "k", "Acceleration (cm/s/s)"),
    (vel_t, vel, "b", "Velocity (cm/s)"),
    (disp_t, disp, "r", "Displacement (cm)"),
]

fig, axes = plt.subplots(3, 1, figsize=(12, 8))
for ax, (t, y, color, label) in zip(axes, series):
    ax.plot(t, y, color=color, linewidth=1.5)
    lim = 1.1 * np.abs(y).max()
    ax.set_ylim(-lim, lim)
    ax.set_xlim(0, 57)
    ax.set_xlabel("Time (s)", fontsize=14)
    ax.set_ylabel(label, fontsize=14)
    ax.grid(True)

fig.subplots_adjust(left=0.0994, right=0.9917, top=0.9654, bottom=0.074, hspace=0.3376)
plt.savefig("out.png", dpi=300)
